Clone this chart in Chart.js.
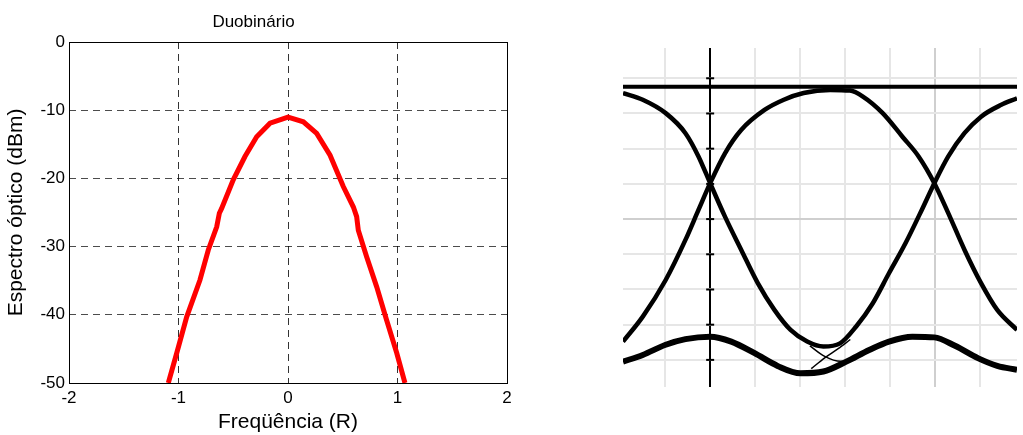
<!DOCTYPE html>
<html>
<head>
<meta charset="utf-8">
<script src="https://cdn.jsdelivr.net/npm/chart.js@4.4.1/dist/chart.umd.min.js"></script>
<style>
  html, body { margin: 0; padding: 0; background: #fff; }
  #wrap { position: relative; width: 1023px; height: 435px; overflow: hidden; }
  #spectrum { position: absolute; left: 0; top: 0; }
  #eye { position: absolute; left: 600px; top: 0; }
</style>
</head>
<body>
<div id="wrap">
  <canvas id="spectrum" width="590" height="435"></canvas>
  <canvas id="eye" width="423" height="435"></canvas>
</div>
<script>
// left panel: optical spectrum
const freqR = [-1.093, -1.016, -0.925, -0.804, -0.728, -0.651, -0.627, -0.606, -0.500, -0.393, -0.286, -0.164, 0,
               0.140, 0.262, 0.384, 0.505, 0.597, 0.627, 0.642, 0.718, 0.810, 0.901, 0.993, 1.068];
const spectrumDbm = [-50, -45.6, -40.3, -34.9, -30.5, -27.1, -25.1, -24.4, -20.2, -16.8, -13.9, -11.9, -11.0,
                     -11.7, -13.4, -16.6, -21.2, -24.2, -25.6, -27.6, -31.5, -35.9, -40.8, -45.6, -50];
const freqTicks = [-2, -1, 0, 1, 2];
const dbmTicks = [0, -10, -20, -30, -40, -50];

// right panel: eye diagram (grid units)
const eyeTopX = [-1.94, 6.83];
const eyeTopY = [7.76, 7.76];
const eyeCapX = [-1.94, -1.50, -0.99, -0.55, -0.26, 0, 0.33, 0.69, 1.21, 1.64, 2.08, 2.67,
                 3.11, 3.40, 3.84, 4.28, 4.64, 4.99, 5.30, 5.66, 6.03, 6.39, 6.83];
const eyeCapY = [0.52, 1.23, 2.27, 3.41, 4.26, 5.02, 5.87, 6.53, 7.10, 7.39, 7.58, 7.67,
                 7.65, 7.48, 7.01, 6.34, 5.78, 5.02, 4.17, 3.13, 2.18, 1.42, 0.85];
const eyeCupX = [-1.94, -1.50, -0.99, -0.55, -0.26, 0, 0.33, 0.69, 1.06, 1.43, 1.79, 2.16, 2.52,
                 2.89, 3.25, 3.62, 3.98, 4.35, 4.71, 4.99, 5.30, 5.66, 6.03, 6.47, 6.83];
const eyeCupY = [7.58, 7.39, 7.01, 6.44, 5.78, 5.02, 4.07, 3.13, 2.18, 1.42, 0.85, 0.52, 0.38,
                 0.47, 0.95, 1.61, 2.46, 3.32, 4.26, 5.02, 5.78, 6.44, 6.91, 7.24, 7.43];
const eyeLowX = [-1.94, -1.50, -0.99, -0.55, 0, 0.47, 0.99, 1.50, 2.01, 2.52, 3.03, 3.54, 3.98,
                 4.50, 4.99, 5.45, 5.96, 6.39, 6.83];
const eyeLowY = [-0.05, 0.14, 0.43, 0.59, 0.66, 0.52, 0.19, -0.17, -0.38, -0.33, -0.05, 0.28, 0.52,
                 0.66, 0.64, 0.40, 0.05, -0.17, -0.28];
const eyeThinAX = [2.22, 2.55, 2.90, 3.25];
const eyeThinAY = [0.40, 0.10, -0.04, 0.02];
const eyeThinBX = [2.25, 2.55, 2.85, 3.12];
const eyeThinBY = [-0.25, 0.06, 0.32, 0.58];
const eyeXTicks = [-1, 0, 1, 2, 3, 4, 5, 6];
const eyeYTicks = [0, 1, 2, 3, 4, 5, 6, 7, 8];

const FONT = "'Liberation Sans', Arial, Helvetica, sans-serif";

const framePlugin = {
    id: 'frame',
    beforeDatasetsDraw(chart) {
        const { ctx, chartArea: a } = chart;
        ctx.save();
        ctx.strokeStyle = '#000';
        ctx.lineWidth = 1;
        ctx.strokeRect(Math.round(a.left) + 0.5, Math.round(a.top) + 0.5,
            Math.round(a.right - a.left), Math.round(a.bottom - a.top));
        ctx.restore();
    }
};

const toPoints = (xs, ys) => xs.map((x, i) => ({ x: x, y: ys[i] }));

new Chart(document.getElementById('spectrum'), {
    type: 'scatter',
    data: {
        datasets: [{
            data: toPoints(freqR, spectrumDbm),
            showLine: true,
            borderColor: '#ff0000',
            borderWidth: 5,
            pointRadius: 0,
            tension: 0
        }]
    },
    options: {
        responsive: false,
        animation: false,
        events: [],
        layout: { padding: { left: 0, right: 83, top: 0, bottom: 0 } },
        plugins: {
            legend: { display: false },
            tooltip: { enabled: false },
            title: {
                display: true,
                text: 'Duobinário',
                color: '#000',
                font: { family: FONT, size: 17, weight: 'normal' },
                padding: { top: 12, bottom: 9.6 }
            }
        },
        scales: {
            x: {
                type: 'linear',
                min: -2, max: 2,
                afterBuildTicks: s => { s.ticks = freqTicks.map(v => ({ value: v })); },
                afterFit: s => { s.height = 52; },
                ticks: { color: '#000', font: { family: FONT, size: 17 }, padding: 5, maxRotation: 0 },
                grid: { color: 'rgba(0,0,0,0.8)', lineWidth: 1, drawTicks: false },
                border: { display: false, dash: [7, 5] },
                title: {
                    display: true,
                    text: 'Freqüência (R)',
                    color: '#000',
                    font: { family: FONT, size: 21 },
                    padding: { top: 0, bottom: 0 }
                }
            },
            y: {
                type: 'linear',
                min: -50, max: 0,
                afterBuildTicks: s => { s.ticks = dbmTicks.map(v => ({ value: v })); },
                afterFit: s => { s.width = 69; },
                ticks: { color: '#000', font: { family: FONT, size: 17 }, padding: 4 },
                grid: { color: 'rgba(0,0,0,0.7)', lineWidth: 1, drawTicks: false },
                border: { display: false, dash: [7, 5] },
                title: {
                    display: true,
                    text: 'Espectro óptico (dBm)',
                    color: '#000',
                    font: { family: FONT, size: 21 },
                    padding: { top: 4, bottom: 0 }
                }
            }
        }
    },
    plugins: [framePlugin]
});

const eyeLine = (xs, ys, width) => ({
    data: toPoints(xs, ys),
    showLine: true,
    borderColor: '#000',
    borderWidth: width,
    pointRadius: 0,
    cubicInterpolationMode: 'monotone'
});

new Chart(document.getElementById('eye'), {
    type: 'scatter',
    data: {
        datasets: [
            eyeLine(eyeTopX, eyeTopY, 4),
            eyeLine(eyeCapX, eyeCapY, 4.5),
            eyeLine(eyeCupX, eyeCupY, 4.5),
            eyeLine(eyeLowX, eyeLowY, 6),
            eyeLine(eyeThinAX, eyeThinAY, 1.5),
            eyeLine(eyeThinBX, eyeThinBY, 1.5),
            {
                data: eyeYTicks.map(v => ({ x: 0, y: v })),
                showLine: false,
                pointStyle: 'line',
                pointRadius: 4,
                pointBorderWidth: 2,
                borderColor: '#000'
            }
        ]
    },
    options: {
        responsive: false,
        animation: false,
        events: [],
        layout: { padding: { left: 23, right: 0, top: 48, bottom: 48 } },
        plugins: { legend: { display: false }, tooltip: { enabled: false } },
        scales: {
            x: {
                type: 'linear',
                min: -1.94, max: 6.83,
                afterBuildTicks: s => { s.ticks = eyeXTicks.map(v => ({ value: v })); },
                afterFit: s => { s.height = 0; },
                ticks: { display: false },
                grid: {
                    color: c => c.tick.value === 0 ? '#000' : (c.tick.value === 5 ? '#cfcfcf' : '#e6e6e6'),
                    lineWidth: 2,
                    drawTicks: false
                },
                border: { display: false }
            },
            y: {
                type: 'linear',
                min: -0.77, max: 8.86,
                afterBuildTicks: s => { s.ticks = eyeYTicks.map(v => ({ value: v })); },
                afterFit: s => { s.width = 0; },
                ticks: { display: false },
                grid: {
                    color: c => c.tick.value === 4 ? '#cfcfcf' : '#e6e6e6',
                    lineWidth: 2,
                    drawTicks: false
                },
                border: { display: false }
            }
        }
    }
});
</script>
</body>
</html>
